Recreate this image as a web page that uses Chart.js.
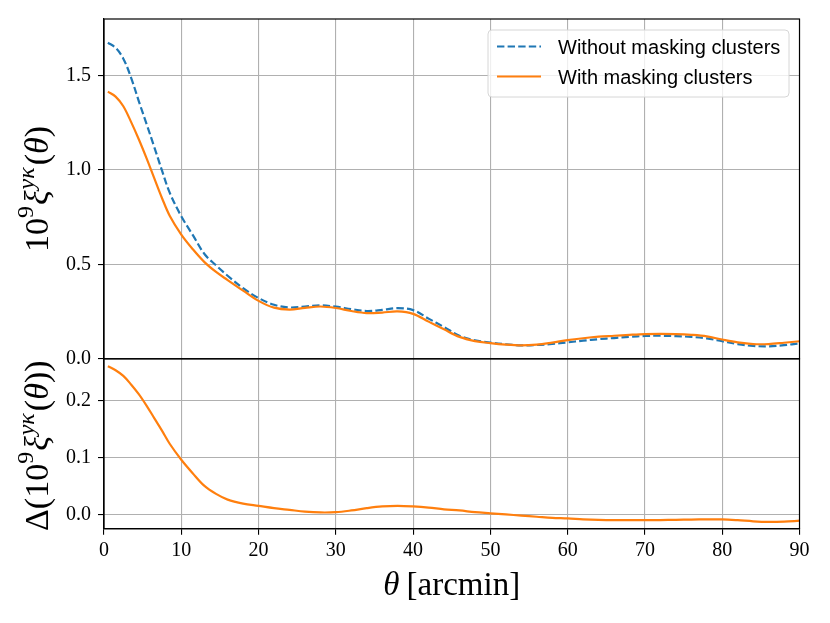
<!DOCTYPE html>
<html>
<head>
<meta charset="utf-8">
<script src="https://cdn.jsdelivr.net/npm/chart.js@4.4.1/dist/chart.umd.min.js"></script>
<style>
  html, body { margin: 0; padding: 0; background: #fff; }
  #wrap { position: relative; width: 830px; height: 623px; }
</style>
</head>
<body>
<div id="wrap"><canvas id="chart" width="830" height="623"></canvas></div>
<script>
// theta in arcmin
const theta = [0.5, 1.5, 2.5, 3.5, 4.5, 5.5, 6.5, 7.5, 8.5, 10, 11.5, 13, 14.5, 16,
  18, 20, 22, 24, 26, 28, 30, 32, 34, 36, 38, 40, 42, 44, 46, 48, 50, 52, 54, 56, 58,
  60, 62, 64, 66, 68, 70, 72, 74, 76, 78, 80, 82, 84, 86, 88, 90];

const withoutMasking = [1.674, 1.648, 1.590, 1.490, 1.365, 1.245, 1.122, 0.998, 0.880, 0.755,
  0.655, 0.555, 0.495, 0.440, 0.374, 0.322, 0.286, 0.272, 0.277, 0.283, 0.276, 0.263,
  0.253, 0.259, 0.268, 0.258, 0.213, 0.168, 0.122, 0.098, 0.086, 0.077, 0.071, 0.073,
  0.079, 0.087, 0.096, 0.104, 0.110, 0.116, 0.121, 0.122, 0.120, 0.116, 0.108, 0.093,
  0.078, 0.068, 0.066, 0.072, 0.082];

const withMasking = [1.415, 1.389, 1.338, 1.255, 1.163, 1.063, 0.957, 0.852, 0.758, 0.658,
  0.580, 0.512, 0.460, 0.417, 0.361, 0.307, 0.271, 0.261, 0.270, 0.277, 0.269, 0.253,
  0.242, 0.245, 0.251, 0.238, 0.197, 0.156, 0.116, 0.094, 0.083, 0.075, 0.071, 0.075,
  0.086, 0.099, 0.109, 0.117, 0.122, 0.127, 0.131, 0.132, 0.131, 0.127, 0.119, 0.102,
  0.087, 0.078, 0.078, 0.085, 0.093];

const difference = [0.261, 0.254, 0.244, 0.229, 0.212, 0.192, 0.170, 0.148, 0.125, 0.097,
  0.073, 0.051, 0.037, 0.027, 0.020, 0.016, 0.012, 0.009, 0.006, 0.0045, 0.005, 0.008,
  0.012, 0.015, 0.016, 0.015, 0.013, 0.010, 0.008, 0.005, 0.003, 0.001, -0.001, -0.003,
  -0.005, -0.006, -0.0075, -0.0085, -0.009, -0.009, -0.009, -0.0088, -0.0085, -0.008,
  -0.0076, -0.0076, -0.009, -0.011, -0.012, -0.0115, -0.010];

const xTicks = [0, 10, 20, 30, 40, 50, 60, 70, 80, 90];
const topTicks = [0, 0.5, 1.0, 1.5];
const bottomTicks = [0, 0.1, 0.2];
const seriesLabels = ['Without masking clusters', 'With masking clusters'];

const BLUE = '#1f77b4';
const ORANGE = '#ff7f0e';
const GRID = '#b0b0b0';
const SERIF = '"Liberation Serif", "DejaVu Serif", serif';
const SANS = '"Liberation Sans", "DejaVu Sans", sans-serif';

const toPoints = ys => theta.map((t, i) => ({ x: t, y: ys[i] }));

function drawRich(ctx, parts, x, y, rotate) {
  ctx.save();
  ctx.translate(x, y);
  if (rotate) ctx.rotate(-Math.PI / 2);
  const fontOf = p => `${p.italic ? 'italic ' : ''}${p.size}px ${SERIF}`;
  let total = 0;
  parts.forEach(p => {
    ctx.font = fontOf(p);
    p.w = ctx.measureText(p.t).width + (p.gap || 0);
    total += p.w;
  });
  let cx = -total / 2;
  ctx.textAlign = 'left';
  ctx.textBaseline = 'alphabetic';
  ctx.fillStyle = '#000';
  parts.forEach(p => {
    ctx.font = fontOf(p);
    ctx.fillText(p.t, cx, p.dy || 0);
    cx += p.w;
  });
  ctx.restore();
}

const xiParts = () => [
  { t: '10', size: 34 },
  { t: '9', size: 24, dy: -15, gap: 1 },
  { t: 'ξ', size: 34, italic: true, gap: 1 },
  { t: 'yκ', size: 24, italic: true, dy: -14, gap: 2 },
  { t: '(', size: 34 },
  { t: 'θ', size: 34, italic: true },
  { t: ')', size: 34 }
];

// frames, legend and the mathtext-like titles
const decorations = {
  id: 'decorations',
  afterDraw(chart) {
    const { ctx, chartArea: area, scales } = chart;
    const top = scales.yTop, bot = scales.yBot;

    ctx.save();
    ctx.strokeStyle = '#000';
    ctx.lineWidth = 1.2;
    ctx.strokeRect(area.left, top.top, area.right - area.left, top.bottom - top.top);
    ctx.strokeRect(area.left, bot.top, area.right - area.left, bot.bottom - bot.top);
    ctx.restore();

    // legend
    const lx = area.right - 311.5, ly = area.top + 11, lw = 301, lh = 67;
    ctx.save();
    ctx.beginPath();
    ctx.roundRect(lx, ly, lw, lh, 4);
    ctx.fillStyle = 'rgba(255,255,255,0.8)';
    ctx.fill();
    ctx.strokeStyle = '#d6d6d6';
    ctx.lineWidth = 1;
    ctx.stroke();
    const rows = [
      { label: seriesLabels[0], color: BLUE, dash: [7.4, 3.2] },
      { label: seriesLabels[1], color: ORANGE, dash: [] }
    ];
    rows.forEach((r, i) => {
      const cy = ly + 16.5 + i * 30;
      ctx.beginPath();
      ctx.setLineDash(r.dash);
      ctx.strokeStyle = r.color;
      ctx.lineWidth = 2.2;
      ctx.moveTo(lx + 9, cy);
      ctx.lineTo(lx + 53, cy);
      ctx.stroke();
      ctx.setLineDash([]);
      ctx.fillStyle = '#000';
      ctx.font = `20px ${SANS}`;
      ctx.textAlign = 'left';
      ctx.textBaseline = 'alphabetic';
      ctx.fillText(r.label, lx + 70, cy + 7);
    });
    ctx.restore();

    // axis titles
    drawRich(ctx, xiParts(), 48, (top.top + top.bottom) / 2, true);
    drawRich(ctx, [{ t: 'Δ(', size: 34 }].concat(xiParts(), [{ t: ')', size: 34 }]),
      48, (bot.top + bot.bottom) / 2 + 2, true);
    drawRich(ctx, [
      { t: 'θ', size: 33, italic: true, gap: 7 },
      { t: '[arcmin]', size: 33 }
    ], (area.left + area.right) / 2, 595, false);
  }
};

const tickFont = { family: SERIF, size: 20 };
const gridOpts = { color: GRID, lineWidth: 1.1, tickColor: '#000', tickLength: 6 };
const borderOpts = { color: '#000', width: 1.2 };

function yScale(ticks, min, max, weight) {
  return {
    type: 'linear',
    position: 'left',
    stack: 'panels',
    stackWeight: weight,
    min: min,
    max: max,
    afterBuildTicks: s => { s.ticks = ticks.map(v => ({ value: v })); },
    afterFit: s => { s.width = 104; },
    ticks: { font: tickFont, color: '#000', padding: 7, callback: v => v.toFixed(1) },
    grid: gridOpts,
    border: borderOpts
  };
}

new Chart(document.getElementById('chart'), {
  type: 'line',
  data: {
    datasets: [
      {
        label: seriesLabels[0], data: toPoints(withoutMasking), yAxisID: 'yTop',
        borderColor: BLUE, borderDash: [7.4, 3.2], borderWidth: 2.2, order: 2
      },
      {
        label: seriesLabels[1], data: toPoints(withMasking), yAxisID: 'yTop',
        borderColor: ORANGE, borderWidth: 2.2, order: 1
      },
      {
        label: 'difference', data: toPoints(difference), yAxisID: 'yBot',
        borderColor: ORANGE, borderWidth: 2.2, order: 0
      }
    ]
  },
  options: {
    responsive: false,
    animation: false,
    parsing: false,
    elements: {
      point: { radius: 0, hoverRadius: 0 },
      line: { tension: 0.35, fill: false }
    },
    layout: { padding: { left: 0, top: 19, right: 30.5, bottom: 0 } },
    plugins: { legend: { display: false }, tooltip: { enabled: false } },
    scales: {
      x: {
        type: 'linear',
        min: 0,
        max: 90,
        afterBuildTicks: s => { s.ticks = xTicks.map(v => ({ value: v })); },
        afterFit: s => { s.height = 94.3; },
        ticks: { font: tickFont, color: '#000', padding: 4, maxRotation: 0, autoSkip: false },
        grid: gridOpts,
        border: borderOpts
      },
      yBot: yScale(bottomTicks, -0.024, 0.274, 1),
      yTop: yScale(topTicks, 0, 1.8, 2)
    }
  },
  plugins: [decorations]
});
</script>
</body>
</html>
